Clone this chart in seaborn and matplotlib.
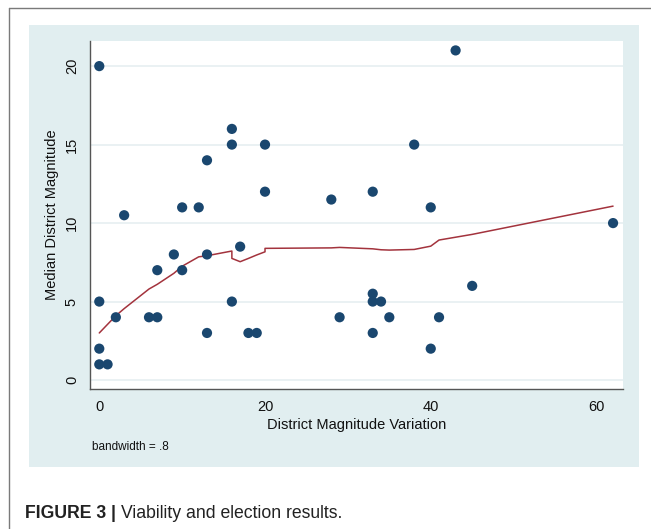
import matplotlib
matplotlib.use("Agg")
import matplotlib.pyplot as plt
import seaborn as sns
import pandas as pd
from matplotlib.patches import Rectangle
from matplotlib.lines import Line2D

# ---- data ----
variation = [0, 0, 0, 0, 1, 2, 3, 6, 7, 7, 9, 10, 10, 12, 13, 13, 13, 16, 16, 16,
             17, 18, 19, 20, 20, 28, 29, 33, 33, 33, 33, 34, 35, 38, 40, 40, 41, 43, 45, 62]
median_mag = [20, 5, 2, 1, 1, 4, 10.5, 4, 4, 7, 8, 11, 7, 11, 14, 8, 3, 16, 15, 5,
              8.5, 3, 3, 15, 12, 11.5, 4, 12, 5.5, 5, 3, 5, 4, 15, 11, 2, 4, 21, 6, 10]

lowess_x = [0, 1, 2, 3, 6, 7, 9, 10, 12, 13, 16, 16, 17, 18, 19, 20, 20,
            28, 29, 33, 34, 35, 38, 40, 41, 43, 45, 62]
lowess_y = [3.0, 3.55, 4.1, 4.55, 5.8, 6.1, 6.8, 7.25, 7.85, 7.92, 8.22, 7.75, 7.54,
            7.75, 7.97, 8.17, 8.39, 8.42, 8.45, 8.36, 8.30, 8.28, 8.32, 8.53, 8.92,
            9.1, 9.28, 11.08]

x_ticks = [0, 20, 40, 60]
y_ticks = [0, 5, 10, 15, 20]

pts = pd.DataFrame({"x": variation, "y": median_mag})
smooth = pd.DataFrame({"x": lowess_x, "y": lowess_y})

sns.set_theme(style="white")
plt.rcParams["font.family"] = ["Liberation Sans", "DejaVu Sans"]

W, H = 651, 529
fig = plt.figure(figsize=(W / 100, H / 100), dpi=100)
fig.patch.set_facecolor("white")

# outer frame lines (left and top)
fig.add_artist(Line2D([9 / W, 9 / W], [0, 1 - 8 / H], transform=fig.transFigure,
                      color="#7a7a7a", lw=1.0))
fig.add_artist(Line2D([9 / W, 1], [1 - 8 / H, 1 - 8 / H], transform=fig.transFigure,
                      color="#7a7a7a", lw=1.0))

# Stata graph region
fig.patches.append(Rectangle((29 / W, 1 - 467 / H), (639 - 29) / W, (467 - 25) / H,
                             transform=fig.transFigure, facecolor="#e1eef0",
                             edgecolor="none", zorder=-1))

ax = fig.add_axes([90 / W, 1 - 389 / H, (623 - 90) / W, (389 - 41) / H])
ax.set_facecolor("white")

for yt in y_ticks:
    ax.axhline(yt, color="#eaf1f3", lw=1.4, zorder=0)

sns.scatterplot(data=pts, x="x", y="y", ax=ax, color="#1a476f", s=54,
                edgecolor="none", zorder=3)
sns.lineplot(data=smooth, x="x", y="y", ax=ax, estimator=None, sort=False,
             color="#a3333d", lw=1.1, zorder=2)

ax.set_xlim(-1.12, 63.2)
ax.set_ylim(-0.57, 21.6)
ax.set_xticks(x_ticks)
ax.set_yticks(y_ticks)
ax.set_yticklabels([str(v) for v in y_ticks], rotation=90, va="center")
ax.tick_params(axis="both", which="both", direction="out", length=4, width=0.9,
               color="#555555", labelsize=10.5, labelcolor="#111111")
ax.tick_params(axis="x", pad=4)
ax.tick_params(axis="y", pad=4)
ax.grid(False)

for side in ["top", "right"]:
    ax.spines[side].set_visible(False)
for side in ["left", "bottom"]:
    ax.spines[side].set_color("#555555")
    ax.spines[side].set_linewidth(1.0)

ax.set_xlabel("District Magnitude Variation", fontsize=10.5, color="#111111", labelpad=3)
ax.set_ylabel("Median District Magnitude", fontsize=10.5, color="#111111", labelpad=4)

fig.text(92 / W, 1 - 447 / H, "bandwidth = .8", fontsize=8.5, color="#111111",
         ha="left", va="center")

bold = fig.text(25 / W, 1 - 513 / H, "FIGURE 3 |", fontsize=12.7, fontweight="bold",
                color="#222222", ha="left", va="center")
renderer = fig.canvas.get_renderer()
bb = bold.get_window_extent(renderer=renderer)
fig.text((bb.x1 + 5) / W, 1 - 513 / H, "Viability and election results.", fontsize=12.7,
         color="#222222", ha="left", va="center")

fig.savefig("out.png", dpi=100)
